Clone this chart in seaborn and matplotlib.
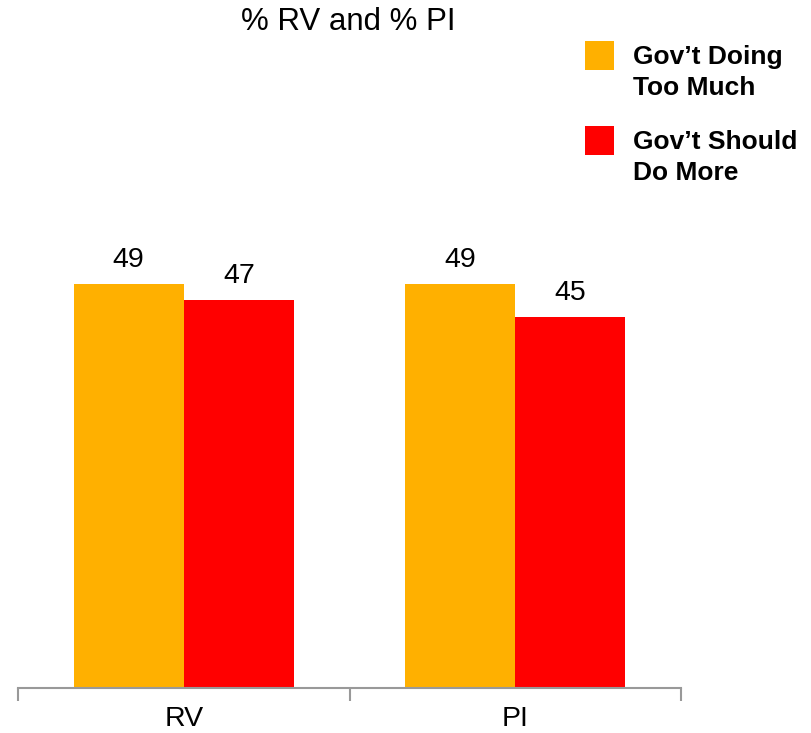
import matplotlib
matplotlib.use("Agg")
import matplotlib.pyplot as plt
from matplotlib.patches import Rectangle
import seaborn as sns
import pandas as pd

categories = ["RV", "PI"]
series_names = ["Gov\u2019t Doing\nToo Much", "Gov\u2019t Should\nDo More"]
doing_too_much = [49, 49]
should_do_more = [47, 45]
colors = ["#FFB000", "#FF0000"]

df = pd.DataFrame({
    "group": categories * 2,
    "series": [series_names[0]] * 2 + [series_names[1]] * 2,
    "value": doing_too_much + should_do_more,
})

sns.set_style("white")
plt.rcParams["font.family"] = ["Liberation Sans", "DejaVu Sans"]

fig = plt.figure(figsize=(8.11, 7.33), dpi=100)
ax = fig.add_axes([18 / 811, 1 - 688 / 733, (681 - 18) / 811, 0.675])

sns.barplot(data=df, x="group", y="value", hue="series", order=categories,
            hue_order=series_names, palette=colors, width=0.664,
            saturation=1, ax=ax, legend=False, linewidth=0, edgecolor="none")

for c in ax.containers:
    ax.bar_label(c, fmt="%d", padding=8, fontsize=20.5, color="#000000")

ax.set_xlim(-0.5, 1.5)
ax.set_ylim(0, 60)
ax.set_xlabel("")
ax.set_ylabel("")
ax.set_yticks([])
for s in ["top", "right", "left"]:
    ax.spines[s].set_visible(False)
ax.spines["bottom"].set_color("#999999")
ax.spines["bottom"].set_linewidth(1.5)
ax.set_xticks([0, 1])
ax.set_xticklabels(categories, fontsize=20.5, color="#000000")
ax.tick_params(axis="x", which="major", length=0, pad=13)
ax.set_xticks([-0.5, 0.5, 1.5], minor=True)
ax.tick_params(axis="x", which="minor", bottom=True, length=9, width=1.5,
               color="#999999", direction="out")

# legend drawn at the top right
leg_y = [41, 126]
for i, (name, col) in enumerate(zip(series_names, colors)):
    fig.add_artist(Rectangle((585 / 811, 1 - (leg_y[i] + 29) / 733),
                             29 / 811, 29 / 733, transform=fig.transFigure,
                             facecolor=col, edgecolor="none"))
    fig.text(633 / 811, 1 - (leg_y[i] + 4) / 733, name, ha="left", va="top",
             fontsize=19, fontweight="bold", color="#000000", linespacing=1.35)

fig.text(348 / 811, 1 - 22 / 733, "% RV and % PI", ha="center", va="center",
         fontsize=22.5, color="#000000")

fig.savefig("out.png", dpi=100)
